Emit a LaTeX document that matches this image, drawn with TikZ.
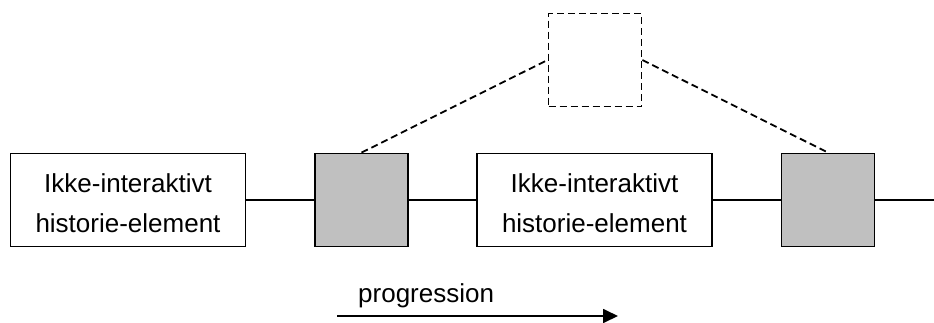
\documentclass[tikz,border=0pt]{standalone}
\usepackage{fontspec}
\setmainfont{Liberation Sans}
\usetikzlibrary{arrows.meta}
\definecolor{boxgray}{HTML}{C0C0C0}
\begin{document}
\begin{tikzpicture}[x=1pt,y=-1pt,
  textbox/.style={draw=black,line width=1.8pt,fill=white,minimum width=235pt,minimum height=93pt,
    align=center,font=\fontsize{26}{40}\selectfont,text height=64pt,text depth=0pt,inner sep=0pt},
  graybox/.style={draw=black,line width=1.8pt,fill=boxgray,minimum width=93pt,minimum height=93pt,inner sep=0pt},
  dashbox/.style={draw=black,line width=1.8pt,dash pattern=on 7pt off 4pt,minimum width=93pt,minimum height=93pt,inner sep=0pt},
  conn/.style={line width=1.8pt},
  dconn/.style={line width=1.8pt,dash pattern=on 7pt off 4pt},
  lbl/.style={font=\fontsize{26}{30}\selectfont,inner sep=0pt}]
\useasboundingbox (0,0) rectangle (934,322);
\node[textbox] (t1) at (128,200) {Ikke-interaktivt\\historie-element};
\node[graybox] (g1) at (361.5,200) {};
\node[textbox] (t2) at (594.5,200) {Ikke-interaktivt\\historie-element};
\node[graybox] (g2) at (828,200) {};
\node[dashbox] (d) at (595,60) {};
\coordinate (rend) at (934,200);
\draw[conn] (t1.east) -- (g1.west);
\draw[conn] (g1.east) -- (t2.west);
\draw[conn] (t2.east) -- (g2.west);
\draw[conn] (g2.east) -- (rend);
\draw[dconn] (g1.north) -- (d.west);
\draw[dconn] (d.east) -- (g2.north);
\coordinate (a1) at (337,316);
\coordinate (a2) at (618,316);
\draw[conn,-{Triangle[length=15pt,width=14pt]}] (a1) -- (a2);
\node[lbl,anchor=base west] (prog) at (358,302) {progression};
\end{tikzpicture}
\end{document}
